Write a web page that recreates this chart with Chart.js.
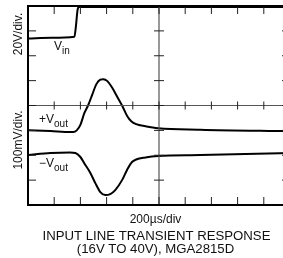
<!DOCTYPE html>
<html>
<head>
  <meta charset="UTF-8">
  <title>Input line transient response</title>
  <script src="https://cdn.jsdelivr.net/npm/chart.js"></script>
  <style>
    html, body {
      margin: 0;
      padding: 0;
      background: #fff;
      overflow: hidden;
    }
    #wrap {
      width: 292px;
      height: 258px;
    }
  </style>
</head>
<body>
  <div id="wrap">
    <canvas id="scope" width="292" height="258"></canvas>
  </div>

  <script>
    // time in divisions (200us/div), amplitude in vertical divisions
    const vinX = [0, 0.9, 1.77, 1.83, 1.89, 1.94, 3, 10];
    const vinY = [6.69, 6.72, 6.76, 7.2, 7.83, 7.96, 7.96, 7.96];

    const posX = [0, 0.86, 1.62, 1.73, 1.86, 2.0, 2.15, 2.30, 2.46, 2.61, 2.76, 2.88, 3.03, 3.22, 3.41, 3.60, 3.79, 3.94, 4.13, 4.48, 4.97, 6.57, 10];
    const posY = [3.01, 2.97, 2.93, 2.93, 3.0, 3.22, 3.69, 4.02, 4.46, 4.86, 5.04, 5.06, 4.98, 4.70, 4.34, 3.98, 3.57, 3.37, 3.25, 3.17, 3.09, 3.03, 2.97];

    const negX = [0, 0.86, 1.6, 1.81, 2.0, 2.19, 2.38, 2.57, 2.76, 2.95, 3.14, 3.33, 3.59, 3.78, 3.97, 4.13, 4.48, 4.97, 6.57, 10];
    const negY = [2.01, 2.09, 2.11, 2.09, 1.93, 1.61, 1.29, 0.88, 0.52, 0.40, 0.44, 0.60, 1.0, 1.41, 1.73, 1.83, 1.91, 1.97, 2.01, 2.09];

    const xDivs = [1, 2, 3, 4, 5, 6, 7, 8, 9];
    const yDivs = [1, 2, 3, 4, 5, 6, 7];

    const toPoints = (xs, ys) => xs.map((x, i) => ({ x: x, y: ys[i] }));

    const line = (label, xs, ys) => ({
      label: label,
      data: toPoints(xs, ys),
      borderColor: "#000",
      borderWidth: 2,
      pointRadius: 0,
      fill: false,
      cubicInterpolationMode: "monotone"
    });

    // frame, center cross, tick marks and labels
    const scopeFrame = {
      id: "scopeFrame",
      afterDraw(chart) {
        const ctx = chart.ctx;
        const xs = chart.scales.x;
        const ys = chart.scales.y;
        const L = xs.getPixelForValue(0), R = xs.getPixelForValue(10);
        const T = ys.getPixelForValue(8), B = ys.getPixelForValue(0);
        const cx = xs.getPixelForValue(5), cy = ys.getPixelForValue(4);

        ctx.save();
        ctx.strokeStyle = "#555";
        ctx.lineWidth = 1.2;
        ctx.beginPath();
        ctx.moveTo(cx, T); ctx.lineTo(cx, B);
        ctx.moveTo(L, cy); ctx.lineTo(R, cy);
        ctx.stroke();

        ctx.strokeStyle = "#222";
        ctx.lineWidth = 1;
        ctx.beginPath();
        xDivs.forEach(d => {
          const px = xs.getPixelForValue(d);
          ctx.moveTo(px, T); ctx.lineTo(px, T + 8);
          ctx.moveTo(px, B); ctx.lineTo(px, B - 8);
          ctx.moveTo(px, cy - 4); ctx.lineTo(px, cy + 4);
        });
        yDivs.forEach(d => {
          const py = ys.getPixelForValue(d);
          ctx.moveTo(L, py); ctx.lineTo(L + 8, py);
          ctx.moveTo(R, py); ctx.lineTo(R - 8, py);
          ctx.moveTo(cx - 5, py); ctx.lineTo(cx + 5, py);
        });
        ctx.stroke();

        ctx.strokeStyle = "#000";
        ctx.lineWidth = 2;
        ctx.beginPath();
        ctx.moveTo(R, T); ctx.lineTo(L, T); ctx.lineTo(L, B); ctx.lineTo(R, B);
        ctx.stroke();

        ctx.fillStyle = "#111";
        ctx.textBaseline = "alphabetic";
        const font = s => s + "px 'Liberation Sans', Arial, sans-serif";

        // trace labels with subscripts
        const label = (x, y, main, sub) => {
          ctx.font = font(12);
          ctx.textAlign = "left";
          ctx.fillText(main, x, y);
          const w = ctx.measureText(main).width;
          ctx.font = font(10);
          ctx.fillText(sub, x + w, y + 4);
        };
        label(54, 50, "V", "in");
        label(39, 123, "+V", "out");
        label(39, 167, "\u2212V", "out");

        // vertical scale labels
        ctx.font = font(12);
        ctx.textAlign = "center";
        [["20V/div.", 34], ["100mV/div.", 140]].forEach(([t, y]) => {
          ctx.save();
          ctx.translate(22, y);
          ctx.rotate(-Math.PI / 2);
          ctx.fillText(t, 0, 0);
          ctx.restore();
        });

        const mid = 155.5;
        ctx.font = font(12);
        ctx.fillText("200\u00b5s/div", mid, 223);
        ctx.font = font(13.2);
        ctx.fillText("INPUT LINE TRANSIENT RESPONSE", mid + 1, 239.5);
        ctx.fillText("(16V TO 40V), MGA2815D", mid, 253);
        ctx.restore();
      }
    };

    new Chart(document.getElementById("scope").getContext("2d"), {
      type: "line",
      data: {
        datasets: [
          line("Vin", vinX, vinY),
          line("+Vout", posX, posY),
          line("-Vout", negX, negY)
        ]
      },
      options: {
        responsive: false,
        animation: false,
        layout: {
          padding: { left: 28, right: 2, top: 6, bottom: 53 }
        },
        scales: {
          x: { type: "linear", min: 0, max: 10, display: false },
          y: { type: "linear", min: 0, max: 8, display: false }
        },
        plugins: {
          legend: { display: false },
          tooltip: { enabled: false }
        }
      },
      plugins: [scopeFrame]
    });
  </script>
</body>
</html>
